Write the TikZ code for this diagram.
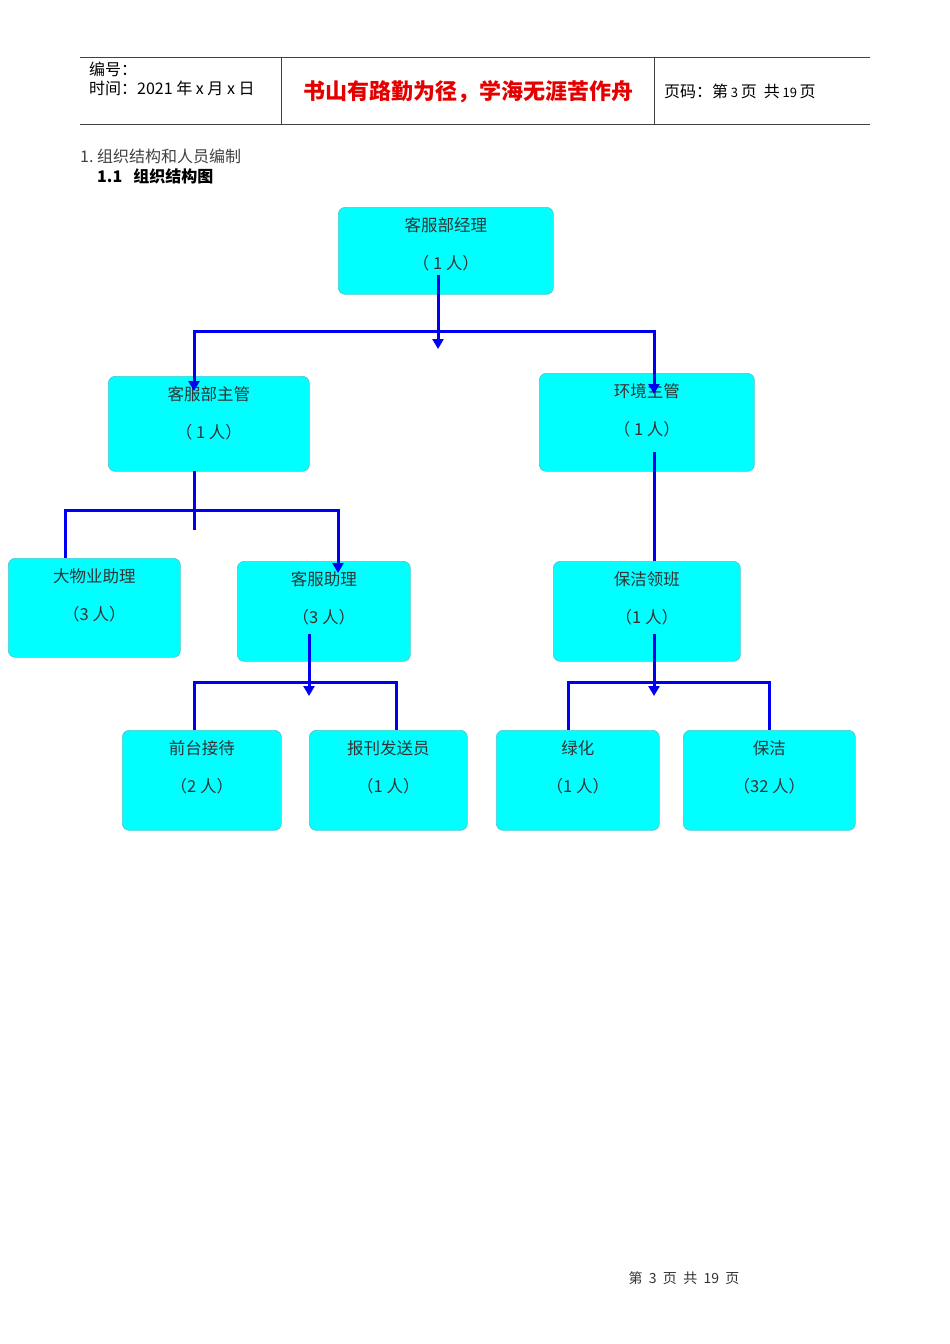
\documentclass[tikz,border=0pt]{standalone}
\usepackage{fontspec}
\setmainfont{Liberation Serif}
\newfontfamily\cjk{Noto Sans CJK SC}
\usetikzlibrary{arrows.meta,calc}
\definecolor{boxcyan}{HTML}{00FFFF}
\definecolor{boxedge}{HTML}{4CC8D0}
\definecolor{linkblue}{HTML}{0000F0}
\definecolor{rulegray}{HTML}{404040}
\newcommand\orgnode[7]{%
  \node[orgbox, minimum width=#4pt, minimum height=#5pt] (#1) at (#2,#3) {};
  \node[lbl] (#1-a) at ($(#1.north)+(0,18)$) {#6};
  \node[lbl] (#1-b) at ($(#1.north)+(0,56)$) {#7};
}
\begin{document}
\begin{tikzpicture}[x=1pt,y=-1pt,
  orgbox/.style={draw=boxedge, line width=0.7pt, fill=boxcyan, rounded corners=7pt, anchor=north west, inner sep=0pt},
  lbl/.style={font=\cjk\fontsize{16.5}{18}\selectfont, text=black!80, inner sep=0pt},
  hdr/.style={font=\cjk\fontsize{16}{18}\selectfont, text=black, inner sep=0pt, anchor=west},
  conn/.style={draw=linkblue, line width=3pt},
  tip/.tip={Triangle[length=10pt,width=11pt]},
  hrule/.style={draw=rulegray, line width=1pt}
]
\useasboundingbox (0,0) rectangle (950,1344);

% ---------- header ----------
\coordinate (hTL) at (80,57);  \coordinate (hTR) at (870,57);
\coordinate (hBL) at (80,124); \coordinate (hBR) at (870,124);
\coordinate (hv1t) at (281,57); \coordinate (hv1b) at (281,124);
\coordinate (hv2t) at (654,57); \coordinate (hv2b) at (654,124);
\draw[hrule] (hTL) -- (hTR);
\draw[hrule] (hBL) -- (hBR);
\draw[hrule] (hv1t) -- (hv1b);
\draw[hrule] (hv2t) -- (hv2b);
\node[hdr] (hno) at (89,69) {编号：};
\node[hdr] (htime) at (89,88) {时间：2021\ 年\ x\ 月\ x\ 日};
\node[font=\cjk\bfseries\fontsize{22}{24}\selectfont, text=red!90!black, inner sep=0pt] (motto) at (468,92) {书山有路勤为径，学海无涯苦作舟};
\node[hdr] (hpage) at (664,91) {页码：第\,{\fontsize{13}{14}\selectfont 3}\,页\ \ 共\,{\fontsize{13}{14}\selectfont 19}\,页};

% ---------- section titles ----------
\node[hdr, text=black!75] (sec1) at (80,156) {1.\ 组织结构和人员编制};
\node[hdr, font=\cjk\bfseries\fontsize{16}{18}\selectfont] (sec11) at (97,176) {1.1\ \ \ 组织结构图};

% ---------- boxes ----------
\orgnode{mgr}{338}{207}{215}{87}{客服部经理}{（\ 1 人）}
\orgnode{sup}{108}{376}{201}{95}{客服部主管}{（\ 1 人）}
\orgnode{env}{539}{373}{215}{98}{环境主管}{（\ 1 人）}
\orgnode{prop}{8}{558}{172}{99}{大物业助理}{（3 人）}
\orgnode{asst}{237}{561}{173}{100}{客服助理}{（3 人）}
\orgnode{lead}{553}{561}{187}{100}{保洁领班}{（1 人）}
\orgnode{front}{122}{730}{159}{100}{前台接待}{（2 人）}
\orgnode{news}{309}{730}{158}{100}{报刊发送员}{（1 人）}
\orgnode{green}{496}{730}{163}{100}{绿化}{（1 人）}
\orgnode{clean}{683}{730}{172}{100}{保洁}{（32 人）}

% ---------- connectors ----------
% manager -> supervisors
\coordinate (m0) at (438,275);
\coordinate (m1) at (438,349);
\draw[conn, -{tip}] (m0) -- (m1);
\coordinate (j1l) at (194,331);
\coordinate (j1r) at (654,331);
\coordinate (t1) at (194,391);
\coordinate (t2) at (654,394);
\draw[conn, {tip}-{tip}] (t1) -- (j1l) -- (j1r) -- (t2);

% supervisor -> assistants
\coordinate (s0) at (194,471);
\coordinate (s1) at (194,530);
\draw[conn] (s0) -- (s1);
\coordinate (j2l) at (65,510);
\coordinate (j2r) at (338,510);
\coordinate (t3) at (338,573);
\draw[conn, -{tip}] (prop.north -| j2l) -- (j2l) -- (j2r) -- (t3);

% environment -> cleaning lead
\coordinate (e0) at (654,452);
\draw[conn] (e0) -- (lead.north -| e0);

% customer assistant -> front desk / newspaper
\coordinate (c0) at (309,634);
\coordinate (c1) at (309,696);
\draw[conn, -{tip}] (c0) -- (c1);
\coordinate (j3l) at (194,682);
\coordinate (j3r) at (396,682);
\draw[conn] (front.north -| j3l) -- (j3l) -- (j3r) -- (news.north -| j3r);

% cleaning lead -> greening / cleaning
\coordinate (l0) at (654,634);
\coordinate (l1) at (654,696);
\draw[conn, -{tip}] (l0) -- (l1);
\coordinate (j4l) at (568,682);
\coordinate (j4r) at (769,682);
\draw[conn] (green.north -| j4l) -- (j4l) -- (j4r) -- (clean.north -| j4r);

% ---------- footer ----------
\node[font=\cjk\fontsize{14}{15}\selectfont, text=black!80, inner sep=0pt] (foot) at (684,1278) {第\ \ 3\ \ 页\ \ 共\ \ 19\ \ 页};
\end{tikzpicture}
\end{document}
